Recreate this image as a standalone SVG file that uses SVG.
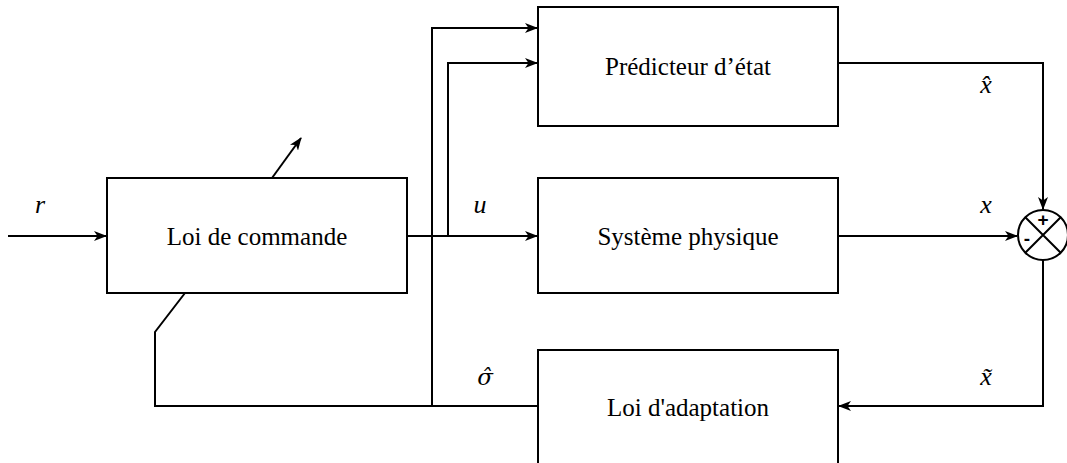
<svg xmlns="http://www.w3.org/2000/svg" width="1067" height="463" viewBox="0 0 1067 463">
<style>
.box{fill:#fff;stroke:#000;stroke-width:2}
.ln{fill:none;stroke:#000;stroke-width:2}
.arr{marker-end:url(#ah)}
.lbl{font-family:"Liberation Serif","Times New Roman",serif;font-size:25px;fill:#000;text-anchor:middle;dominant-baseline:central}
.math{font-family:"Liberation Serif","Times New Roman",serif;font-style:italic;font-size:26px;fill:#000;text-anchor:middle}
.greek{font-family:"DejaVu Serif","Liberation Serif",serif;font-style:italic;font-size:23px;fill:#000;text-anchor:middle}
.sign{font-family:"Liberation Sans",Arial,sans-serif;font-weight:bold;font-size:19px;fill:#000;text-anchor:middle;dominant-baseline:central}
</style>
<defs>
<marker id="ah" viewBox="0 0 13 10" refX="12" refY="5" markerWidth="13" markerHeight="10" markerUnits="userSpaceOnUse" orient="auto">
<path d="M0,0 L13,5 L0,10 L3.5,5 Z" fill="#000"/>
</marker>
</defs>
<rect width="1067" height="463" fill="#fff"/>
<g id="connectors">
<path class="ln arr" d="M8,236 H106"/>
<path class="ln arr" d="M407,236 H537"/>
<path class="ln arr" d="M432,236 V28 H537"/>
<path class="ln arr" d="M448,236 V63 H537"/>
<path class="ln" d="M432,236 V406"/>
<path class="ln" d="M538,406 H155 V332 L185,293"/>
<path class="ln arr" d="M272,178 L301,138"/>
<path class="ln arr" d="M838,63 H1043 V209"/>
<path class="ln arr" d="M838,236 H1017"/>
<path class="ln arr" d="M1043,260 V406 H839"/>
</g>
<g id="loi-commande">
<rect class="box" x="107" y="178" width="300" height="115"/>
<text class="lbl" x="257" y="236">Loi de commande</text>
</g>
<g id="predicteur">
<rect class="box" x="538" y="7" width="300" height="119"/>
<text class="lbl" x="688" y="66">Prédicteur d’état</text>
</g>
<g id="systeme">
<rect class="box" x="538" y="178" width="300" height="115"/>
<text class="lbl" x="688" y="236">Système physique</text>
</g>
<g id="adaptation">
<rect class="box" x="538" y="350" width="300" height="125"/>
<text class="lbl" x="688" y="407">Loi d'adaptation</text>
</g>
<g id="sommateur">
<circle class="box" cx="1043" cy="235" r="25"/>
<path class="ln" d="M1025.3,217.3 L1060.7,252.7 M1060.7,217.3 L1025.3,252.7"/>
<text class="sign" x="1043" y="219">+</text>
<text class="sign" x="1027" y="238">-</text>
</g>
<g id="labels">
<text class="math" x="40" y="213">r</text>
<text class="math" x="480" y="213">u</text>
<text class="math" x="986" y="93">x̂</text>
<text class="math" x="986" y="213">x</text>
<text class="math" x="986" y="385">x̃</text>
<text class="greek" x="485" y="385">σ̂</text>
</g>
</svg>
